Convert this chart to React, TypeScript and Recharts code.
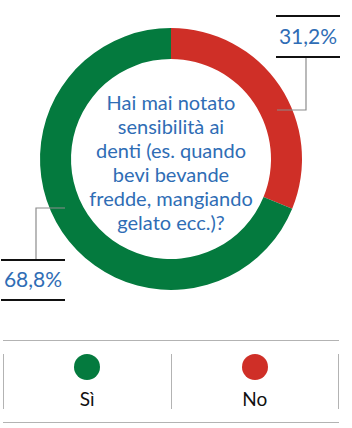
import React from 'react';
import { PieChart, Pie, Cell, Legend, Customized } from 'recharts';

const categories = ['No', 'Sì'];
const values = [31.2, 68.8];
const labels = ['31,2%', '68,8%'];
const colors = ['#cf2f27', '#047a3e'];
const questionLines = [
  'Hai mai notato',
  'sensibilità ai',
  'denti (es. quando',
  'bevi bevande',
  'fredde, mangiando',
  'gelato ecc.)?',
];
const legendOrder = ['Sì', 'No'];

const data = categories.map((name, i) => ({ name, value: values[i], color: colors[i] }));

const BLUE = '#2f6db5';
const FONT = 'Lato, "Open Sans", sans-serif';

// leader line + boxed value label, placed left or right of the ring
function renderLabel(props: any) {
  const { cx, cy, index } = props;
  const side = index === 0 ? 1 : -1;
  const elbowX = cx + side * 106;
  const elbowY = cy - side * 49;
  const kneeX = cx + side * 135;
  const ruleY = index === 0 ? cy - 102 : cy + 101;
  const boxLeft = index === 0 ? cx + 105 : cx - 170;
  const boxRight = boxLeft + 64;
  const textX = (boxLeft + boxRight) / 2;
  const topRule = index === 0 ? cy - 143 : ruleY;
  const bottomRule = index === 0 ? ruleY : cy + 141;
  return (
    <g key={`lbl-${index}`}>
      <polyline
        points={`${elbowX},${elbowY} ${kneeX},${elbowY} ${kneeX},${ruleY}`}
        fill="none"
        stroke="#8c8c8c"
        strokeWidth={1.2}
      />
      <line x1={boxLeft} x2={boxRight} y1={topRule} y2={topRule} stroke="#111" strokeWidth={2.2} />
      <line x1={boxLeft} x2={boxRight} y1={bottomRule} y2={bottomRule} stroke="#111" strokeWidth={2.2} />
      <text
        x={textX}
        y={(topRule + bottomRule) / 2 + 7}
        textAnchor="middle"
        fill={BLUE}
        fontSize={21}
        fontFamily={FONT}
      >
        {labels[index]}
      </text>
    </g>
  );
}

function CenterText() {
  return (
    <text textAnchor="middle" fill={BLUE} fontSize={20} fontFamily={FONT}>
      {questionLines.map((line, i) => (
        <tspan key={line} x={171} y={110 + i * 24}>
          {line}
        </tspan>
      ))}
    </text>
  );
}

function LegendContent({ payload }: any) {
  const items = legendOrder.map((name) => payload.find((p: any) => p.value === name)).filter(Boolean);
  return (
    <div
      style={{
        width: 336,
        marginLeft: 3,
        borderTop: '1.5px solid #b3b3b3',
        borderBottom: '1.5px solid #b3b3b3',
        height: 83,
        boxSizing: 'border-box',
        display: 'flex',
        alignItems: 'center',
      }}
    >
      {items.map((item: any, i: number) => (
        <div
          key={item.value}
          style={{
            flex: 1,
            height: 55,
            borderLeft: '1.5px solid #b3b3b3',
            borderRight: i === items.length - 1 ? '1.5px solid #b3b3b3' : 'none',
            display: 'flex',
            flexDirection: 'column',
            alignItems: 'center',
            justifyContent: 'space-between',
          }}
        >
          <div style={{ width: 26, height: 26, borderRadius: 13, background: item.color }} />
          <div style={{ fontFamily: FONT, fontSize: 19, color: '#111', lineHeight: '20px' }}>
            {item.value}
          </div>
        </div>
      ))}
    </div>
  );
}

export default function App() {
  return (
    <div style={{ position: 'absolute', left: 0, top: 0, width: 352, height: 428, background: '#fff' }}>
      <PieChart width={352} height={428} margin={{ top: 0, right: 0, bottom: 0, left: 0 }}>
        <Pie
          data={data}
          dataKey="value"
          nameKey="name"
          cx={171}
          cy={159}
          innerRadius={100}
          outerRadius={131}
          startAngle={90}
          endAngle={-270}
          stroke="none"
          label={renderLabel}
          labelLine={false}
          isAnimationActive={false}
        >
          {data.map((d) => (
            <Cell key={d.name} fill={d.color} />
          ))}
        </Pie>
        <Customized component={CenterText} />
        <Legend
          content={<LegendContent />}
          wrapperStyle={{ position: 'absolute', left: 0, top: 340, width: 352 }}
        />
      </PieChart>
    </div>
  );
}
